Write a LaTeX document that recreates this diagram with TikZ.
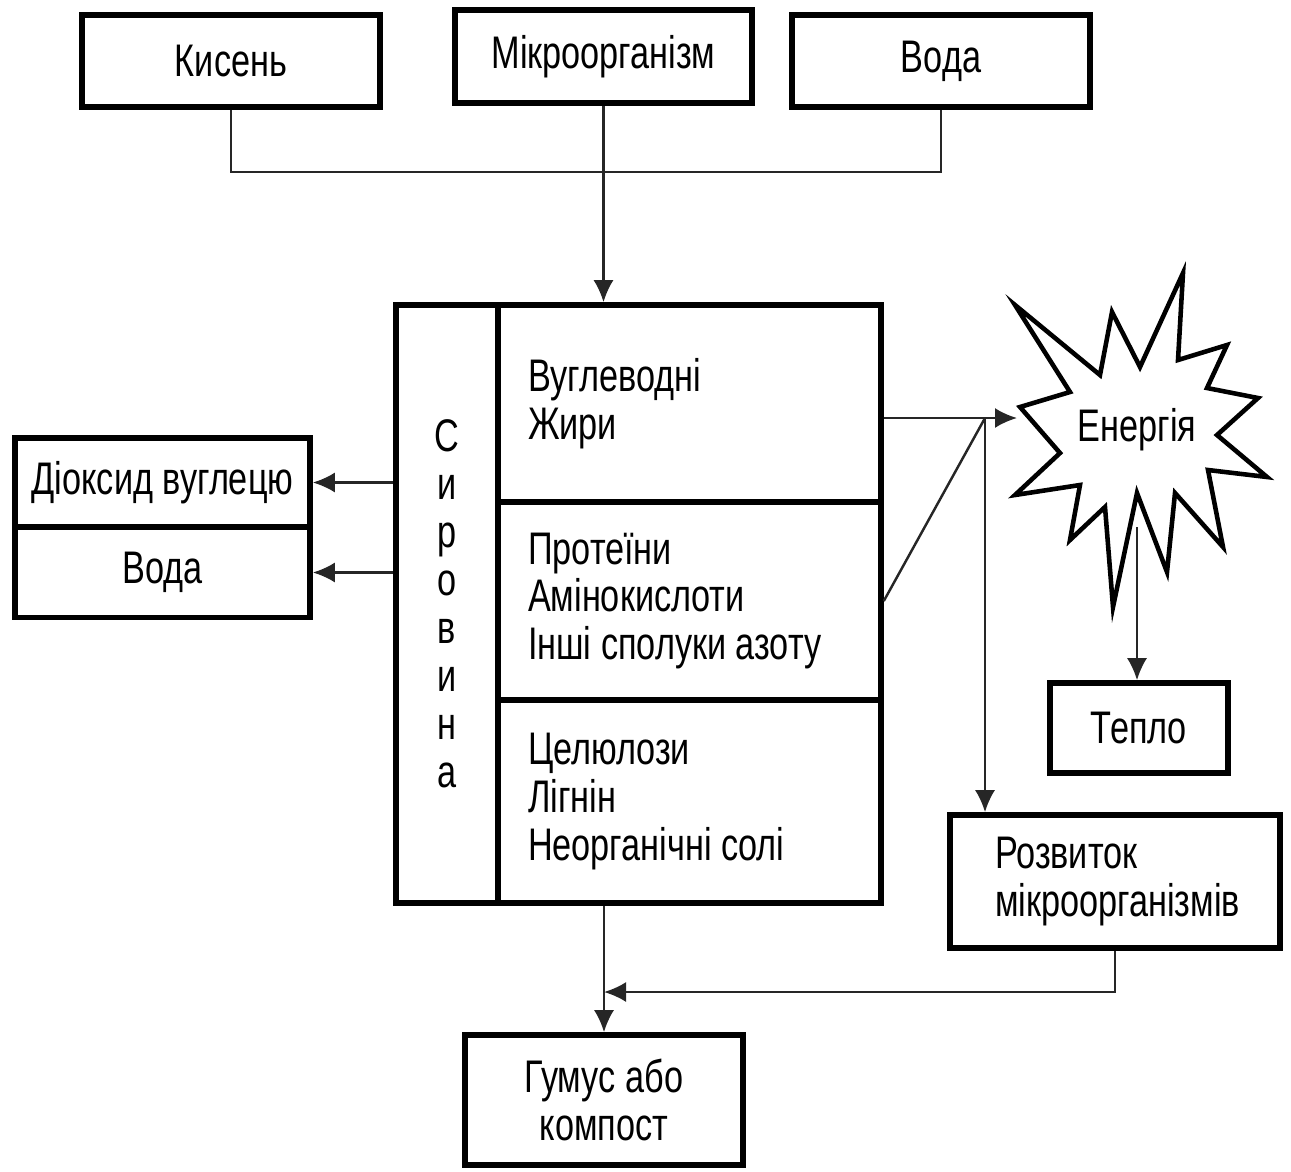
\documentclass[tikz,border=0pt]{standalone}
\usepackage{fontspec}
\setmainfont{Liberation Sans}[FakeStretch=0.75, WordSpace=1.0]
\usetikzlibrary{arrows.meta}

\begin{document}
\begin{tikzpicture}[x=0.02cm, y=-0.02cm, node distance=1.8cm,
  every node/.style={font=\fontsize{26}{27.3}\selectfont},
  box/.style={draw, line width=3.2pt, inner sep=0pt, align=center},
  part/.style={draw, line width=3.2pt, minimum width=7.66cm, text width=6.46cm,
    inner xsep=0.6cm, inner ysep=0pt, align=flush left},
  link/.style={line width=1.4pt, black!85},
  arr/.style={link, -{Latex[length=4.4mm,width=4mm]}}]
\useasboundingbox (0,0) rectangle (1291,1171);
% Specification of nodes (position, etc.)

\node (kisen)     [box, minimum width=5.96cm, minimum height=1.84cm] at (231,61)     {Кисень};
\node (mikro)     [box, minimum width=5.94cm, minimum height=1.86cm] at (603.5,56.5) {Мікроорганізм};
\node (voda-top)  [box, minimum width=5.96cm, minimum height=1.84cm] at (941,61)     {Вода};

\node (syrovyna)  [box, minimum width=2.04cm, minimum height=11.96cm] at (447,604) {С\\и\\р\\о\\в\\и\\н\\а};
\node (sec1)      [part, minimum height=3.94cm] at (689.5,403.5) {Вуглеводні\\Жири};
\node (sec2)      [part, minimum height=3.96cm] at (689.5,601)   {Протеїни\\Амінокислоти\\Інші сполуки азоту};
\node (sec3)      [part, minimum height=4.06cm] at (689.5,801.5) {Целюлози\\Лігнін\\Неорганічні солі};

\node (diox)      [box, minimum width=5.9cm, minimum height=1.78cm] at (162.5,482.5) {Діоксид вуглецю};
\node (voda-left) [box, minimum width=5.9cm, minimum height=1.8cm, below of=diox] {Вода};

% energy burst
\draw[line width=2.6pt] (1015,495) -- (1080,485) -- (1070,540) -- (1105,507) -- (1113,607)
  -- (1137,493) -- (1167,572) -- (1175,493) -- (1223,547) -- (1208,470) -- (1267,477)
  -- (1217,435) -- (1258,398) -- (1207,388) -- (1227,345) -- (1178,360) -- (1183,273)
  -- (1140,367) -- (1112,312) -- (1100,375) -- (1015,305) -- (1070,392) -- (1020,407)
  -- (1060,453) -- cycle;
\node (energy)    at (1137,430) {Енергія};

\node (teplo)     [box, minimum width=3.56cm, minimum height=1.8cm] at (1139,728) {Тепло};
\node (rozvytok)  [box, minimum width=6.6cm, minimum height=2.66cm, text width=4.8cm, align=flush left] at (1115,881.5) {Розвиток\\мікроорганізмів};
\node (humus)     [box, minimum width=5.56cm, minimum height=2.6cm] at (604,1100) {Гумус або\\компост};

\coordinate (top-join) at (604,172);
\coordinate (split)    at (985,418);
\coordinate (star-in)  at (1017,418);
\coordinate (star-out) at (1137,527);
\coordinate (merge)    at (604,992);

\draw[link] (kisen.south) |- (top-join) -| (voda-top.south);
\draw[arr]  (mikro.south) -- (mikro.south |- sec1.north);
\draw[arr]  (syrovyna.west |- diox.east) -- (diox.east);
\draw[arr]  (syrovyna.west |- voda-left.east) -- (voda-left.east);
\draw[arr]  (sec1.east |- split) -- (star-in);
\draw[link] (sec2.east) -- (split);
\draw[arr]  (split) -- (split |- rozvytok.north);
\draw[arr]  (star-out) -- (star-out |- teplo.north);
\draw[arr]  (humus.north |- sec3.south) -- (humus.north);
\draw[arr]  (rozvytok.south) |- (merge);

\end{tikzpicture}
\end{document}
